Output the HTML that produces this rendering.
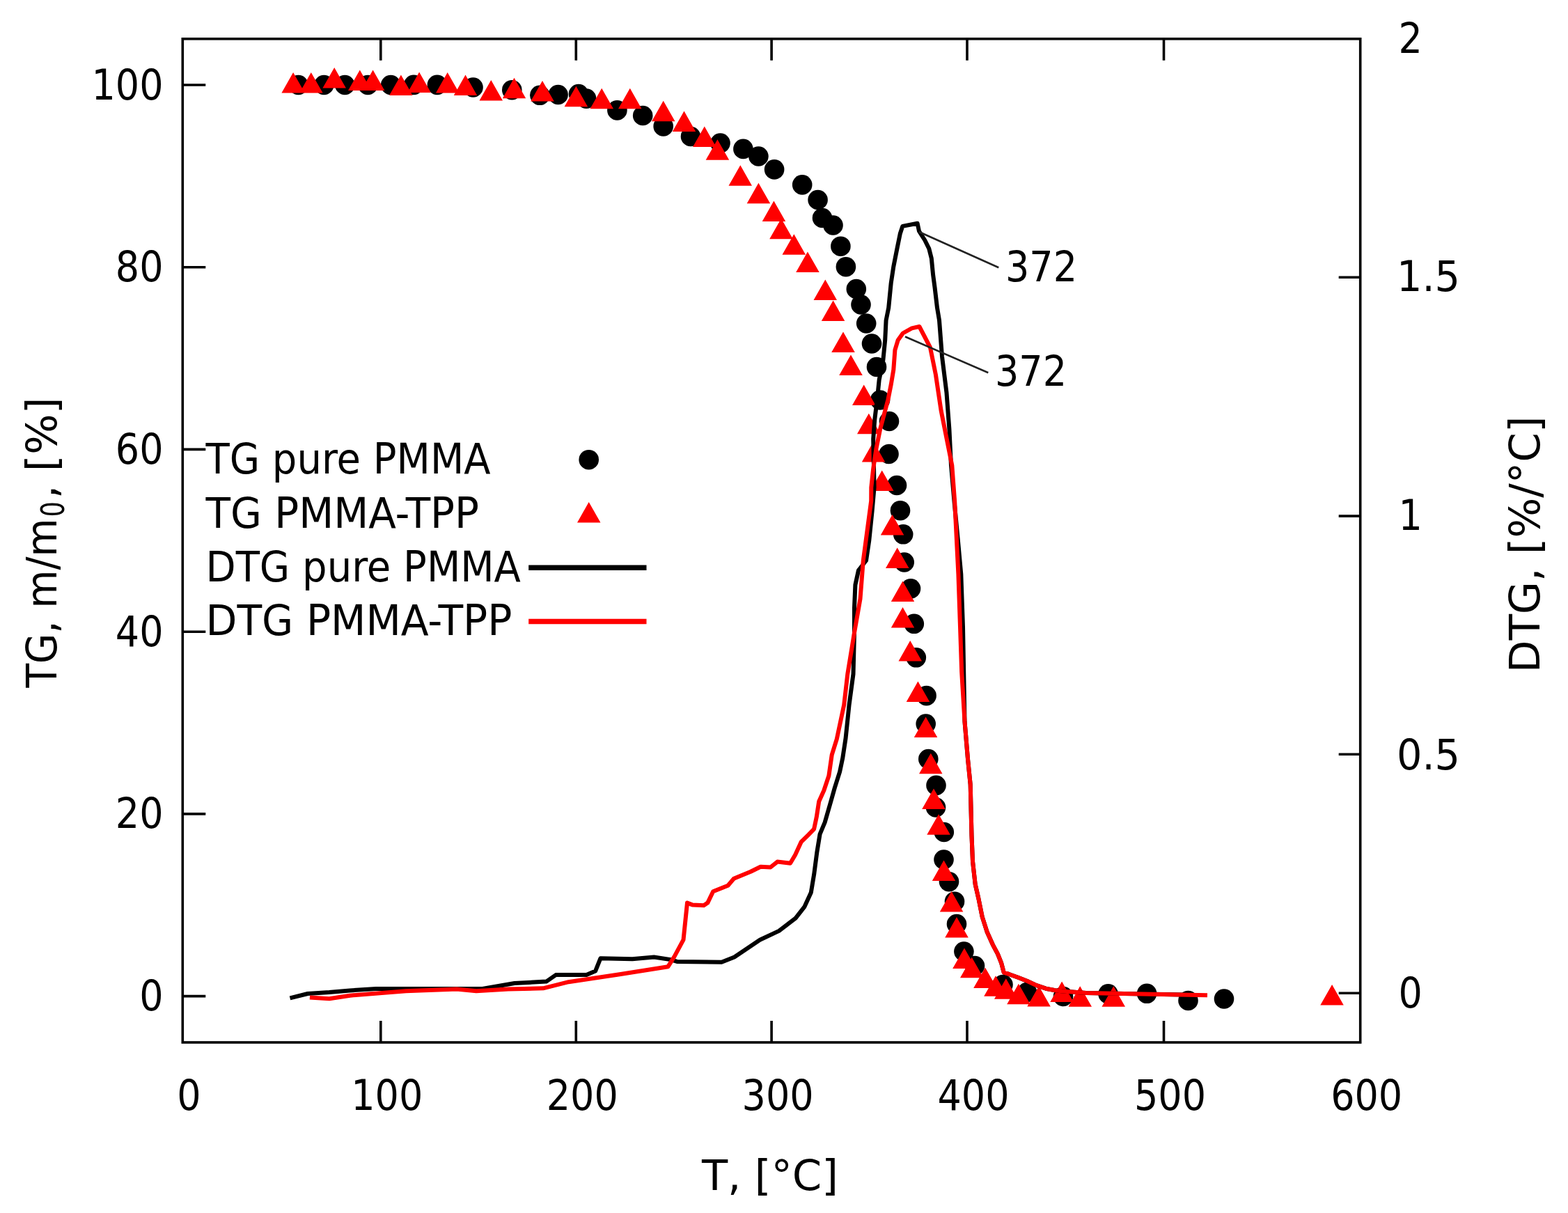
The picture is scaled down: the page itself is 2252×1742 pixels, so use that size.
<!DOCTYPE html>
<html><head><meta charset="utf-8"><title>TG / DTG of PMMA</title>
<style>html,body{margin:0;padding:0;background:#fff;}svg{display:block;}text{font-family:'DejaVu Sans Condensed', 'DejaVu Sans', 'Liberation Sans', sans-serif;fill:#000;}</style></head><body>
<svg width="2252" height="1742" viewBox="0 0 2252 1742">
<rect x="0" y="0" width="2252" height="1742" fill="#fff"/>
<path d="M546.8,1497.0V1466.0M546.8,55.8V86.8M827.3,1497.0V1466.0M827.3,55.8V86.8M1108.1,1497.0V1466.0M1108.1,55.8V86.8M1389.0,1497.0V1466.0M1389.0,55.8V86.8M1671.5,1497.0V1466.0M1671.5,55.8V86.8M262.3,1430.6H295.3M262.3,1168.9H295.3M262.3,907.2H295.3M262.3,645.4H295.3M262.3,383.7H295.3M262.3,122.0H295.3M1953.7,1426.3H1922.7M1953.7,1083.3H1922.7M1953.7,741.1H1922.7M1953.7,398.2H1922.7" stroke="#000" stroke-width="3.6" fill="none"/>
<g fill="#000"><circle cx="428.5" cy="122.0" r="14.3"/><circle cx="465.3" cy="122.0" r="14.3"/><circle cx="495.3" cy="122.0" r="14.3"/><circle cx="528.3" cy="122.0" r="14.3"/><circle cx="561.2" cy="122.0" r="14.3"/><circle cx="594.2" cy="121.9" r="14.3"/><circle cx="627.9" cy="121.9" r="14.3"/><circle cx="679.5" cy="125.5" r="14.3"/><circle cx="735.3" cy="129.2" r="14.3"/><circle cx="775.3" cy="136.8" r="14.3"/><circle cx="801.6" cy="136.0" r="14.3"/><circle cx="831.0" cy="135.0" r="14.3"/><circle cx="842.1" cy="141.6" r="14.3"/><circle cx="886.4" cy="158.4" r="14.3"/><circle cx="923.2" cy="166.0" r="14.3"/><circle cx="952.7" cy="181.4" r="14.3"/><circle cx="992.0" cy="196.0" r="14.3"/><circle cx="1034.5" cy="205.6" r="14.3"/><circle cx="1067.4" cy="213.9" r="14.3"/><circle cx="1089.4" cy="224.5" r="14.3"/><circle cx="1112.1" cy="243.4" r="14.3"/><circle cx="1152.2" cy="265.4" r="14.3"/><circle cx="1174.6" cy="287.0" r="14.3"/><circle cx="1181.0" cy="313.0" r="14.3"/><circle cx="1196.5" cy="323.5" r="14.3"/><circle cx="1207.4" cy="353.7" r="14.3"/><circle cx="1214.9" cy="383.2" r="14.3"/><circle cx="1229.8" cy="415.0" r="14.3"/><circle cx="1236.5" cy="437.5" r="14.3"/><circle cx="1244.2" cy="464.5" r="14.3"/><circle cx="1252.0" cy="493.5" r="14.3"/><circle cx="1259.0" cy="527.0" r="14.3"/><circle cx="1264.0" cy="574.5" r="14.3"/><circle cx="1277.0" cy="605.0" r="14.3"/><circle cx="1276.5" cy="652.0" r="14.3"/><circle cx="1288.0" cy="697.0" r="14.3"/><circle cx="1293.0" cy="733.2" r="14.3"/><circle cx="1297.2" cy="767.3" r="14.3"/><circle cx="1298.7" cy="807.5" r="14.3"/><circle cx="1308.0" cy="845.3" r="14.3"/><circle cx="1312.8" cy="895.8" r="14.3"/><circle cx="1315.8" cy="944.3" r="14.3"/><circle cx="1330.6" cy="999.1" r="14.3"/><circle cx="1329.7" cy="1039.5" r="14.3"/><circle cx="1333.3" cy="1090.1" r="14.3"/><circle cx="1344.5" cy="1127.8" r="14.3"/><circle cx="1344.0" cy="1159.5" r="14.3"/><circle cx="1355.8" cy="1195.0" r="14.3"/><circle cx="1355.5" cy="1234.5" r="14.3"/><circle cx="1363.0" cy="1266.2" r="14.3"/><circle cx="1371.0" cy="1294.7" r="14.3"/><circle cx="1374.0" cy="1327.0" r="14.3"/><circle cx="1384.4" cy="1366.5" r="14.3"/><circle cx="1400.0" cy="1387.0" r="14.3"/><circle cx="1440.5" cy="1414.0" r="14.3"/><circle cx="1475.0" cy="1425.0" r="14.3"/><circle cx="1527.0" cy="1431.0" r="14.3"/><circle cx="1591.6" cy="1427.4" r="14.3"/><circle cx="1647.1" cy="1426.8" r="14.3"/><circle cx="1706.5" cy="1437.0" r="14.3"/><circle cx="1758.0" cy="1434.5" r="14.3"/></g>
<path fill="#f00" d="M404.4,133.5L437.9,133.5L421.1,104.0ZM430.1,133.5L463.6,133.5L446.8,104.0ZM463.4,126.5L496.9,126.5L480.2,97.0ZM500.0,130.0L533.5,130.0L516.8,100.5ZM518.9,130.0L552.4,130.0L535.6,100.5ZM559.1,137.0L592.6,137.0L575.9,107.5ZM585.4,133.0L618.9,133.0L602.1,103.5ZM626.0,133.4L659.5,133.4L642.7,103.9ZM651.8,137.1L685.2,137.1L668.5,107.6ZM688.5,144.5L722.0,144.5L705.3,115.0ZM721.8,141.3L755.2,141.3L738.5,111.8ZM762.2,145.5L795.8,145.5L779.0,116.0ZM810.6,153.2L844.1,153.2L827.4,123.7ZM847.5,156.3L881.0,156.3L864.2,126.8ZM888.0,156.3L921.5,156.3L904.8,126.8ZM936.0,174.2L969.5,174.2L952.7,144.7ZM965.8,189.0L999.2,189.0L982.5,159.5ZM995.0,211.1L1028.5,211.1L1011.8,181.6ZM1013.7,229.7L1047.2,229.7L1030.4,200.2ZM1046.5,266.8L1080.0,266.8L1063.3,237.3ZM1072.7,292.2L1106.2,292.2L1089.4,262.7ZM1094.7,318.0L1128.2,318.0L1111.4,288.5ZM1105.2,343.3L1138.8,343.3L1122.0,313.8ZM1123.5,365.8L1157.0,365.8L1140.3,336.3ZM1143.2,391.0L1176.7,391.0L1159.9,361.5ZM1168.5,431.0L1202.0,431.0L1185.3,401.5ZM1179.8,461.0L1213.3,461.0L1196.6,431.5ZM1194.2,506.0L1227.8,506.0L1211.0,476.5ZM1205.2,539.0L1238.8,539.0L1222.0,509.5ZM1224.0,582.0L1257.5,582.0L1240.7,552.5ZM1231.0,623.3L1264.5,623.3L1247.8,593.8ZM1237.8,663.6L1271.2,663.6L1254.5,634.1ZM1250.0,705.0L1283.5,705.0L1266.7,675.5ZM1264.8,768.5L1298.3,768.5L1281.6,739.0ZM1272.0,816.0L1305.5,816.0L1288.7,786.5ZM1279.8,864.0L1313.2,864.0L1296.5,834.5ZM1279.8,901.4L1313.2,901.4L1296.5,871.9ZM1290.5,949.5L1324.0,949.5L1307.2,920.0ZM1301.7,1008.0L1335.2,1008.0L1318.4,978.5ZM1312.8,1059.0L1346.3,1059.0L1329.6,1029.5ZM1320.0,1111.2L1353.5,1111.2L1336.8,1081.7ZM1324.2,1162.1L1357.8,1162.1L1341.0,1132.6ZM1331.3,1198.8L1364.8,1198.8L1348.1,1169.3ZM1338.8,1265.1L1372.2,1265.1L1355.5,1235.6ZM1349.8,1309.5L1383.3,1309.5L1366.6,1280.0ZM1357.2,1346.6L1390.8,1346.6L1374.0,1317.1ZM1368.2,1391.0L1401.8,1391.0L1385.0,1361.5ZM1379.0,1404.3L1412.5,1404.3L1395.7,1374.8ZM1398.2,1419.1L1431.8,1419.1L1415.0,1389.6ZM1413.2,1430.7L1446.8,1430.7L1430.0,1401.2ZM1428.0,1434.8L1461.5,1434.8L1444.8,1405.3ZM1446.2,1442.2L1479.7,1442.2L1462.9,1412.7ZM1475.3,1445.5L1508.8,1445.5L1492.1,1416.0ZM1508.3,1439.0L1541.8,1439.0L1525.1,1409.5ZM1534.5,1445.8L1568.0,1445.8L1551.2,1416.3ZM1582.5,1445.8L1616.0,1445.8L1599.3,1416.3ZM1896.3,1443.5L1929.8,1443.5L1913.1,1414.0Z"/>
<polyline fill="none" stroke="#000" stroke-width="6.0" stroke-linejoin="round" points="416.5,1433.4 442.0,1427.0 473.0,1425.0 502.6,1422.4 540.0,1420.0 600.0,1420.0 650.0,1420.0 693.0,1420.0 739.0,1412.0 784.6,1409.6 798.3,1400.1 842.3,1400.1 855.1,1394.6 862.4,1376.3 908.2,1377.2 939.3,1374.5 963.2,1378.1 972.3,1380.9 1036.4,1381.8 1054.7,1374.5 1091.4,1349.7 1118.8,1336.9 1142.6,1318.6 1155.5,1302.1 1164.8,1281.7 1169.1,1256.1 1173.4,1223.4 1177.6,1197.8 1184.7,1180.8 1193.3,1151.0 1198.9,1131.1 1206.1,1108.3 1210.3,1088.4 1214.6,1060.0 1219.6,1012.0 1225.5,968.0 1227.0,909.0 1227.0,873.0 1228.4,840.0 1233.0,819.0 1244.0,805.0 1248.3,776.0 1252.6,734.0 1255.6,700.0 1254.2,630.5 1256.3,602.1 1259.8,573.7 1262.7,545.3 1268.4,516.8 1271.2,488.4 1272.6,460.0 1276.2,442.1 1279.7,406.6 1283.3,382.9 1288.0,359.2 1292.8,335.5 1296.3,324.9 1317.6,320.7 1320.0,332.0 1328.3,345.0 1334.2,356.8 1337.8,371.0 1340.1,394.7 1342.5,412.5 1346.0,442.1 1349.0,460.0 1353.0,512.0 1359.5,564.2 1363.4,616.3 1366.0,668.3 1370.5,720.0 1375.5,772.0 1380.3,824.6 1383.0,900.0 1384.0,955.0 1385.5,1036.3 1390.1,1091.0 1393.7,1126.6 1395.5,1200.0 1397.0,1237.0 1400.7,1270.0 1405.3,1290.0 1410.7,1316.6 1417.8,1338.8 1425.8,1356.6 1432.9,1369.9 1438.2,1383.2 1441.7,1396.6 1449.7,1399.2 1462.2,1403.7 1475.5,1409.0 1488.8,1415.2 1502.1,1419.7 1515.5,1422.3 1533.2,1424.1 1559.9,1425.9 1700.0,1428.6"/>
<polyline fill="none" stroke="#f00" stroke-width="6.0" stroke-linejoin="round" points="444.9,1432.5 473.0,1434.3 502.6,1429.7 583.0,1423.3 656.0,1420.6 684.0,1423.3 729.7,1420.6 780.0,1419.3 816.6,1410.2 889.9,1399.2 959.5,1388.2 968.6,1373.6 981.5,1349.7 987.0,1296.6 994.3,1299.4 1010.8,1300.3 1016.3,1296.6 1024.2,1280.3 1045.5,1271.7 1054.0,1261.8 1078.2,1251.8 1092.4,1244.7 1106.6,1245.5 1116.5,1237.6 1135.0,1239.8 1142.1,1227.7 1150.6,1209.2 1160.6,1199.3 1169.1,1190.7 1172.7,1173.7 1176.2,1151.0 1183.3,1135.3 1190.4,1114.0 1194.7,1084.2 1201.8,1061.4 1212.2,1012.4 1217.3,968.0 1227.0,908.8 1235.5,860.0 1239.8,804.8 1245.5,762.2 1251.2,719.5 1251.3,700.0 1254.2,673.1 1258.4,644.7 1264.1,616.3 1269.8,595.0 1275.5,573.7 1279.7,552.4 1283.3,531.0 1285.4,502.6 1289.7,488.4 1296.8,478.5 1309.6,471.4 1320.4,469.0 1336.0,499.0 1343.9,538.0 1351.7,590.2 1359.5,629.3 1367.3,668.3 1371.2,720.4 1373.8,772.5 1376.4,824.6 1379.0,900.0 1381.2,965.3 1385.5,1036.3 1390.1,1091.0 1393.7,1126.6 1395.5,1200.0 1397.0,1237.0 1400.7,1270.0 1405.3,1290.0 1410.7,1316.6 1417.8,1338.8 1425.8,1356.6 1432.9,1369.9 1438.2,1383.2 1441.7,1396.6 1449.7,1399.2 1462.2,1403.7 1475.5,1409.0 1488.8,1415.2 1502.1,1419.7 1515.5,1422.3 1533.2,1424.1 1559.9,1425.9 1734.0,1429.3"/>
<path d="M1320,333L1434.3,384.3M1300,483.5L1419.3,535.3" stroke="#222" stroke-width="2.6" fill="none"/>
<rect x="262.3" y="55.8" width="1691.4" height="1441.2" fill="none" stroke="#000" stroke-width="3.6"/>
<text x="234.5" y="1451.1" font-size="60" text-anchor="end">0</text>
<text x="234.5" y="1189.4" font-size="60" text-anchor="end">20</text>
<text x="234.5" y="927.7" font-size="60" text-anchor="end">40</text>
<text x="234.5" y="665.9" font-size="60" text-anchor="end">60</text>
<text x="234.5" y="404.2" font-size="60" text-anchor="end">80</text>
<text x="234.5" y="142.5" font-size="60" text-anchor="end">100</text>
<text x="2008.5" y="1447.4" font-size="60">0</text>
<text x="2006" y="1104.5" font-size="60" textLength="91" lengthAdjust="spacingAndGlyphs">0.5</text>
<text x="2008.5" y="761.4" font-size="60">1</text>
<text x="2006" y="418.2" font-size="60" textLength="91" lengthAdjust="spacingAndGlyphs">1.5</text>
<text x="2008.5" y="75.6" font-size="60">2</text>
<text x="271.3" y="1594.4" font-size="60" text-anchor="middle">0</text>
<text x="555.8" y="1594.4" font-size="60" text-anchor="middle">100</text>
<text x="836.3" y="1594.4" font-size="60" text-anchor="middle">200</text>
<text x="1117.1" y="1594.4" font-size="60" text-anchor="middle">300</text>
<text x="1398.0" y="1594.4" font-size="60" text-anchor="middle">400</text>
<text x="1680.5" y="1594.4" font-size="60" text-anchor="middle">500</text>
<text x="1962.7" y="1594.4" font-size="60" text-anchor="middle">600</text>
<text x="1106" y="1708.6" font-size="60" text-anchor="middle" textLength="196" lengthAdjust="spacingAndGlyphs">T, [°C]</text>
<text transform="translate(81,866.1) rotate(-90)" font-size="60" text-anchor="middle" textLength="243" lengthAdjust="spacingAndGlyphs">TG, m/m</text>
<text transform="translate(91.5,731.2) rotate(-90)" font-size="47" text-anchor="middle" textLength="22" lengthAdjust="spacingAndGlyphs">0</text>
<text transform="translate(81,643.35) rotate(-90)" font-size="60" text-anchor="middle" textLength="146" lengthAdjust="spacingAndGlyphs">, [%]</text>
<text transform="translate(2211,781.9) rotate(-90)" font-size="60" text-anchor="middle" textLength="368.7" lengthAdjust="spacingAndGlyphs">DTG, [%/°C]</text>
<text x="295.5" y="680.1" font-size="60" textLength="409" lengthAdjust="spacingAndGlyphs">TG pure PMMA</text>
<text x="295.5" y="757.5" font-size="60" textLength="392.5" lengthAdjust="spacingAndGlyphs">TG PMMA-TPP</text>
<text x="295.5" y="835.1" font-size="60" textLength="452.4" lengthAdjust="spacingAndGlyphs">DTG pure PMMA</text>
<text x="295.5" y="912.2" font-size="60" textLength="440" lengthAdjust="spacingAndGlyphs">DTG PMMA-TPP</text>
<circle cx="845.7" cy="660.2" r="14.3" fill="#000"/>
<path d="M829.0,750.5L862.5,750.5L845.7,721.0Z" fill="#f00"/>
<path d="M759.2,815.2H928.5" stroke="#000" stroke-width="7.5"/>
<path d="M759.2,892.6H928.5" stroke="#f00" stroke-width="7.5"/>
<text x="1444" y="403.8" font-size="60">372</text>
<text x="1429" y="554.2" font-size="60">372</text>
</svg></body></html>
